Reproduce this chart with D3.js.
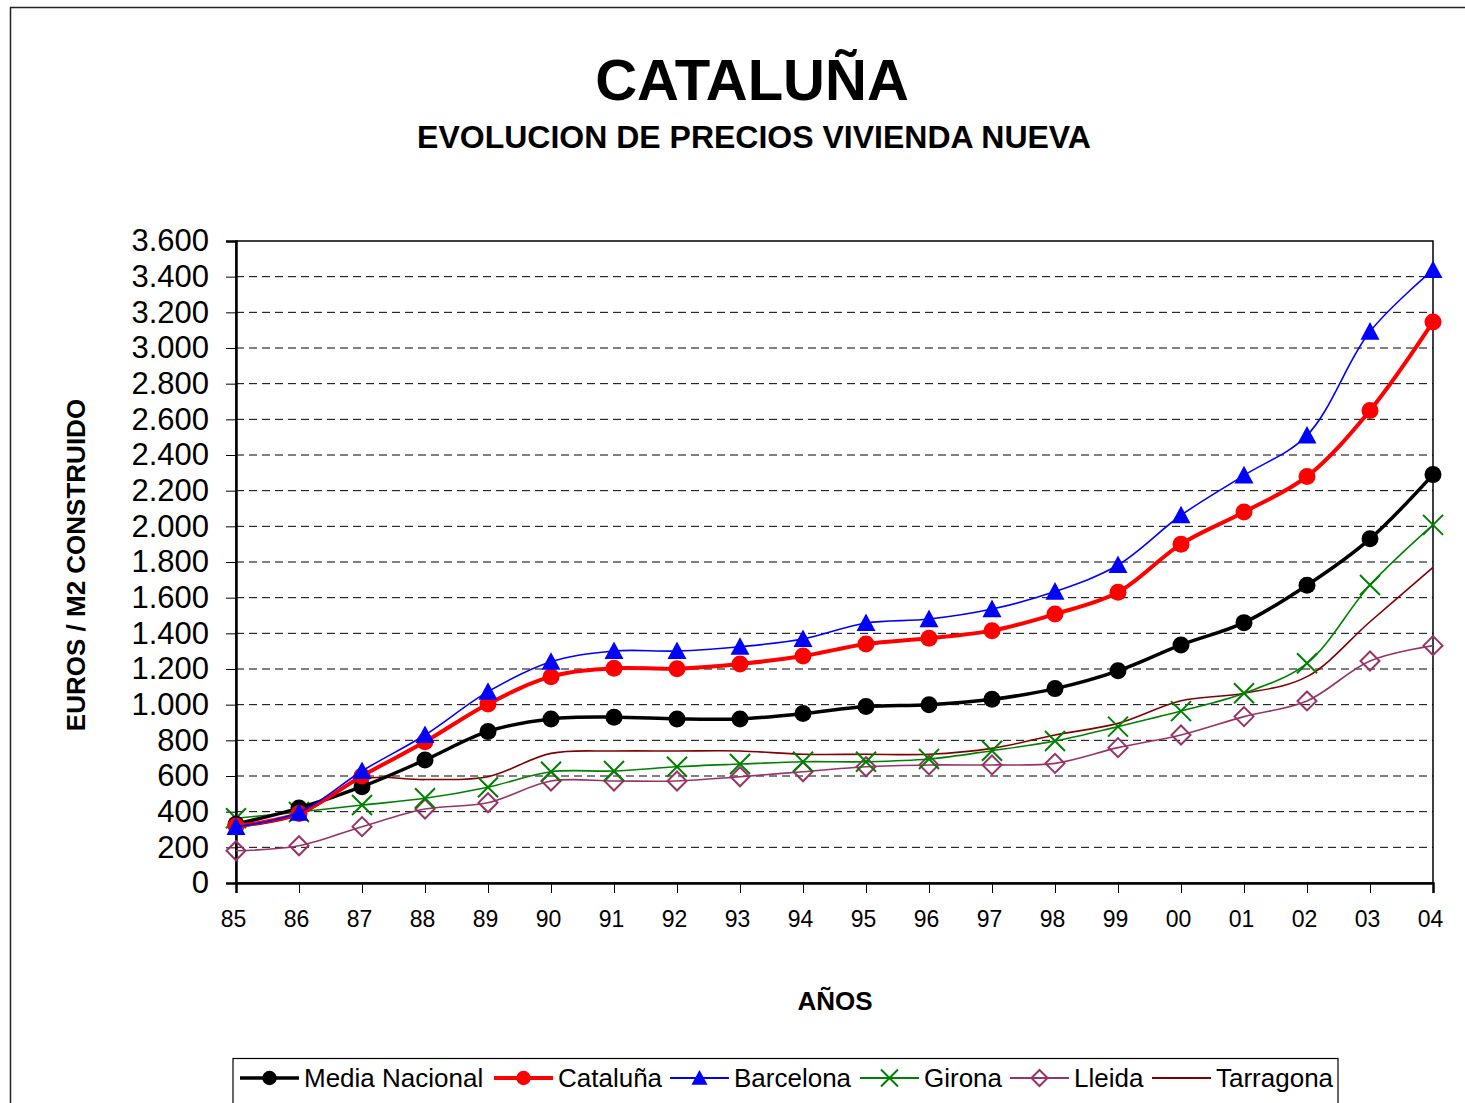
<!DOCTYPE html>
<html><head><meta charset="utf-8">
<script src="https://cdn.jsdelivr.net/npm/d3@7"></script>
<style>body{margin:0;background:#fff}svg{display:block;font-family:"Liberation Sans",Arial,sans-serif}</style>
</head><body>
<svg id="c" width="1465" height="1103"></svg>
<script>
const years = ["85","86","87","88","89","90","91","92","93","94","95","96","97","98","99","00","01","02","03","04"];
const yTicks = [0,200,400,600,800,1000,1200,1400,1600,1800,2000,2200,2400,2600,2800,3000,3200,3400,3600];
const mediaNacional = [330,420,540,690,850,920,930,920,920,950,990,1000,1030,1090,1190,1335,1460,1670,1930,2290];
const cataluna =      [320,390,600,792,1004,1157,1204,1202,1228,1273,1340,1372,1415,1508,1630,1900,2080,2280,2650,3146];
const barcelona =     [315,395,628,830,1073,1241,1301,1301,1325,1368,1458,1480,1536,1634,1783,2062,2286,2510,3092,3438];
const girona =        [363,398,437,475,537,624,628,652,667,680,680,695,742,796,877,964,1064,1232,1671,2008];
const lleida =        [181,209,316,415,450,572,572,572,596,624,652,662,662,671,759,830,933,1021,1245,1331];
const tarragona =     [312,380,580,580,596,727,740,740,740,722,722,722,755,830,895,1022,1064,1157,1465,1770];
const seriesNames = ["Media Nacional","Cataluña","Barcelona","Girona","Lleida","Tarragona"];

const series = [
  {name:seriesNames[0], values:mediaNacional, color:"#000000", width:3.5, marker:"circle"},
  {name:seriesNames[1], values:cataluna, color:"#FF0000", width:4, marker:"circle"},
  {name:seriesNames[2], values:barcelona, color:"#0000FF", width:1.6, marker:"triangle"},
  {name:seriesNames[3], values:girona, color:"#008000", width:1.6, marker:"x"},
  {name:seriesNames[4], values:lleida, color:"#993366", width:1.6, marker:"diamond"},
  {name:seriesNames[5], values:tarragona, color:"#800000", width:1.6, marker:"none"}
];

const svg = d3.select("#c");
const L=236, R=1433, T=241, B=883;
const x = d3.scalePoint().domain(years).range([L,R]);
const y = d3.scaleLinear().domain([0,3600]).range([B,T]);

// outer border
svg.append("path").attr("d","M10.5,1103 L10.5,7.5 L1465,7.5").attr("fill","none").attr("stroke","#222").attr("stroke-width",1.5);

// titles
svg.append("text").attr("x",752).attr("y",100).attr("text-anchor","middle").attr("font-weight","bold").attr("font-size",58).text("CATALUÑA");
svg.append("text").attr("x",754).attr("y",148).attr("text-anchor","middle").attr("font-weight","bold").attr("font-size",32).text("EVOLUCION DE PRECIOS VIVIENDA NUEVA");

// gridlines
svg.append("g").selectAll("line").data(yTicks.filter(d=>d>0 && d<3600)).join("line")
  .attr("x1",L).attr("x2",R).attr("y1",d=>y(d)).attr("y2",d=>y(d))
  .attr("stroke","#000").attr("stroke-width",1).attr("stroke-dasharray","8,5");

// plot frame
svg.append("rect").attr("x",L).attr("y",T).attr("width",R-L).attr("height",B-T).attr("fill","none").attr("stroke","#000").attr("stroke-width",1.5);

// y axis
const yAxis = d3.axisLeft(y).tickValues(yTicks).tickSize(10).tickPadding(17)
  .tickFormat(d=>d3.format(",")(d).replace(/,/g,"."));
const gy = svg.append("g").attr("transform",`translate(${L},0)`).call(yAxis);
gy.select(".domain").attr("stroke","#000").attr("stroke-width",2.5);
gy.selectAll(".tick line").attr("stroke","#000");
gy.selectAll("text").attr("font-size",31).attr("fill","#000").attr("font-family","Liberation Sans, Arial, sans-serif");

// x axis
const xAxis = d3.axisBottom(x).tickSize(10).tickPadding(18);
const gx = svg.append("g").attr("transform",`translate(0,${B})`).call(xAxis);
gx.select(".domain").attr("stroke","#000").attr("stroke-width",2.5);
gx.selectAll(".tick line").attr("stroke","#000");
gx.selectAll("text").attr("font-size",23).attr("fill","#000").attr("dx",-3).attr("font-family","Liberation Sans, Arial, sans-serif");

// axis titles
svg.append("text").attr("transform","translate(85,565) rotate(-90)").attr("text-anchor","middle").attr("font-weight","bold").attr("font-size",26).text("EUROS / M2 CONSTRUIDO");
svg.append("text").attr("x",835).attr("y",1010).attr("text-anchor","middle").attr("font-weight","bold").attr("font-size",26).text("AÑOS");

// lines
const line = d3.line().x((d,i)=>x(years[i])).y(d=>y(d)).curve(d3.curveCatmullRom.alpha(0.5));
const order = [5,4,3,0,1,2];
function drawMarker(g, s, cx, cy, scale){
  scale = scale||1;
  if(s.marker==="circle"){
    g.append("circle").attr("cx",cx).attr("cy",cy).attr("r",8.5*scale).attr("fill",s.color);
  } else if(s.marker==="triangle"){
    const h=9.5*scale;
    g.append("path").attr("d",`M${cx},${cy-h} L${cx+h},${cy+h*0.85} L${cx-h},${cy+h*0.85}Z`).attr("fill",s.color);
  } else if(s.marker==="x"){
    const h=10*scale;
    g.append("path").attr("d",`M${cx-h},${cy-h}L${cx+h},${cy+h}M${cx-h},${cy+h}L${cx+h},${cy-h}`).attr("stroke",s.color).attr("stroke-width",2).attr("fill","none");
  } else if(s.marker==="diamond"){
    const h=9.5*scale;
    g.append("path").attr("d",`M${cx},${cy-h}L${cx+h},${cy}L${cx},${cy+h}L${cx-h},${cy}Z`).attr("stroke",s.color).attr("stroke-width",2).attr("fill","none");
  }
}
order.forEach(k=>{
  const s=series[k];
  const g=svg.append("g");
  g.append("path").attr("d",line(s.values)).attr("fill","none").attr("stroke",s.color).attr("stroke-width",s.width).attr("stroke-linejoin","round");
  s.values.forEach((v,i)=>drawMarker(g,s,x(years[i]),y(v)));
});

// legend
const lg = svg.append("g");
lg.append("rect").attr("x",233).attr("y",1058.5).attr("width",1105).attr("height",60).attr("fill","#fff").attr("stroke","#000").attr("stroke-width",1.2);
const legX = [240,494,670,860,1010,1152];
series.forEach((s,i)=>{
  const x0=legX[i], cy=1078;
  lg.append("line").attr("x1",x0).attr("x2",x0+59).attr("y1",cy).attr("y2",cy).attr("stroke",s.color).attr("stroke-width",Math.max(s.width,2));
  drawMarker(lg,s,x0+29.5,cy,0.85);
  lg.append("text").attr("x",x0+64).attr("y",cy+9).attr("font-size",26).attr("textLength",null).attr("fill","#000").text(s.name);
});
</script>
</body></html>
